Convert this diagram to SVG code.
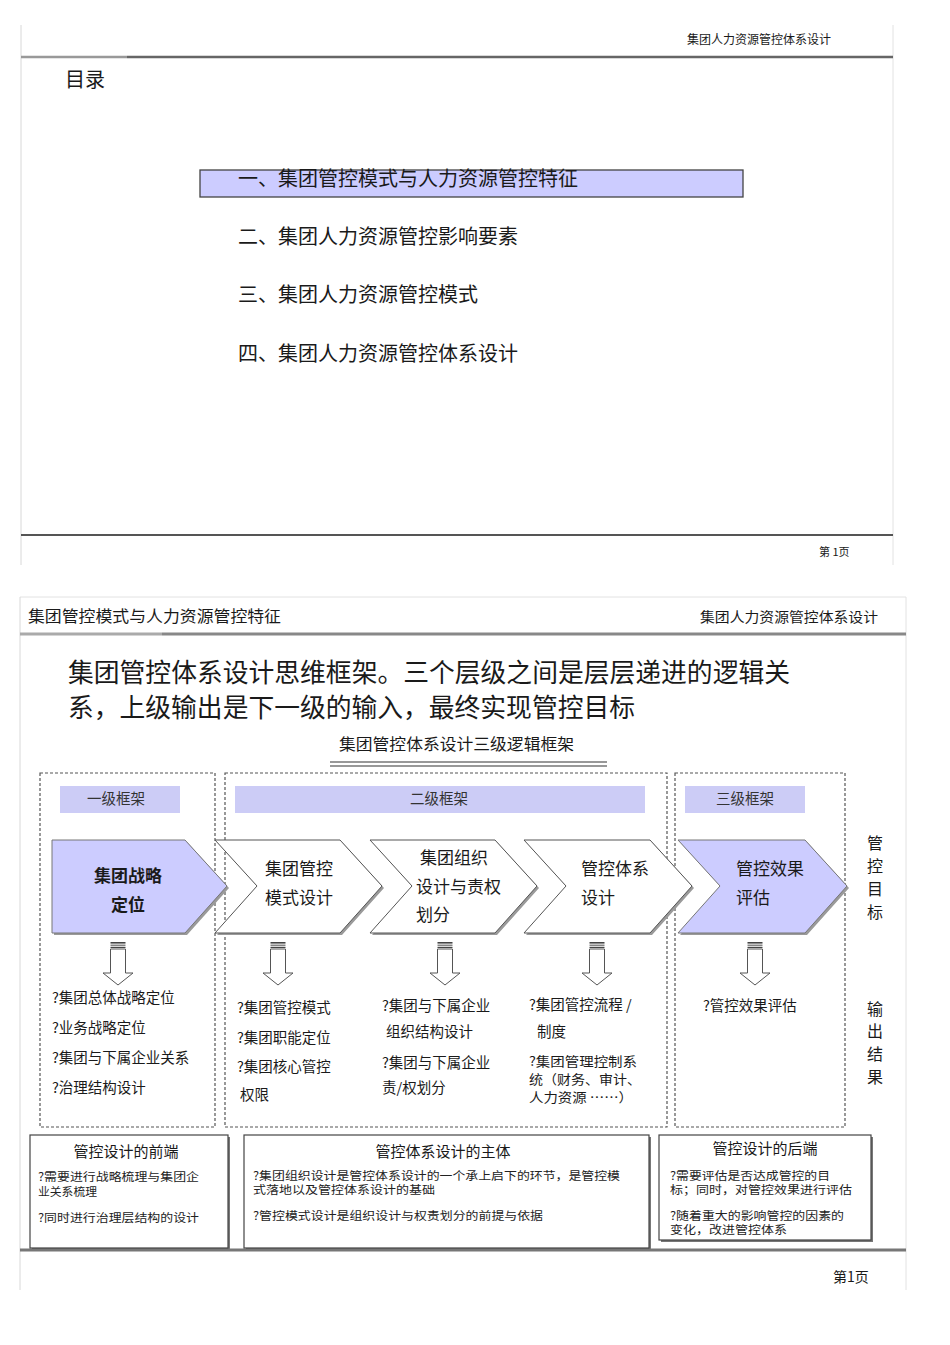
<svg xmlns="http://www.w3.org/2000/svg" width="950" height="1345" viewBox="0 0 950 1345">
<style>
text{font-family:"Noto Sans CJK SC","Noto Sans",sans-serif;fill:#1a1a1a}
.hdr{font-size:12px}
.toc{font-size:20px}
.frame{fill:none;stroke:#555;stroke-width:1.2;stroke-dasharray:3,2}
.lab{fill:#ccccf6}
.labt{font-size:14.5px;text-anchor:middle;fill:#333}
.chev{fill:#fff;stroke:#555;stroke-width:1}
.chevf{fill:#ccccff;stroke:#777;stroke-width:1}
.shad{fill:#9a9a9a}
.ct{font-size:17px}
.bt{font-size:14.5px}
.bt2{font-size:13px}
.side{font-size:16px;text-anchor:middle}
.arrow{fill:#fff;stroke:#555;stroke-width:1}
.box{fill:#fff;stroke:#444;stroke-width:1.2}
.boxs{fill:#777}
.bxt{font-size:15px;text-anchor:middle}
.bxs{font-size:11.8px;fill:#222}
</style>
<g id="page1">
  <line x1="21" y1="25" x2="21" y2="565" stroke="#d8d8d8" stroke-width="1"/>
  <line x1="893" y1="25" x2="893" y2="565" stroke="#e2e2e2" stroke-width="1"/>
  <text class="hdr" x="831" y="44" text-anchor="end">集团人力资源管控体系设计</text>
  <line x1="21" y1="57" x2="127" y2="57" stroke="#999" stroke-width="2.5"/>
  <line x1="127" y1="57" x2="893" y2="57" stroke="#666" stroke-width="2.5"/>
  <text x="65" y="87" font-size="20">目录</text>
  <rect x="200" y="170" width="543" height="27" fill="#ccccff" stroke="#444" stroke-width="1.3"/>
  <text class="toc" x="238" y="186">一、集团管控模式与人力资源管控特征</text>
  <text class="toc" x="238" y="244">二、集团人力资源管控影响要素</text>
  <text class="toc" x="238" y="302">三、集团人力资源管控模式</text>
  <text class="toc" x="238" y="361">四、集团人力资源管控体系设计</text>
  <line x1="21" y1="535" x2="893" y2="535" stroke="#555" stroke-width="2"/>
  <text x="819" y="556" font-size="11">第 1页</text>
</g>
<g id="page2">
  <line x1="20" y1="597" x2="906" y2="597" stroke="#e2e2e2" stroke-width="1"/>
  <line x1="20" y1="597" x2="20" y2="1290" stroke="#d8d8d8" stroke-width="1"/>
  <line x1="906" y1="597" x2="906" y2="1290" stroke="#e2e2e2" stroke-width="1"/>
  <text x="28" y="622" font-size="16" textLength="253" lengthAdjust="spacingAndGlyphs">集团管控模式与人力资源管控特征</text>
  <text x="878" y="622" font-size="14" text-anchor="end" textLength="178" lengthAdjust="spacingAndGlyphs">集团人力资源管控体系设计</text>
  <line x1="20" y1="634" x2="162" y2="634" stroke="#aaa" stroke-width="3"/>
  <line x1="162" y1="634" x2="906" y2="634" stroke="#888" stroke-width="3"/>
  <text x="68" y="682" font-size="26" textLength="722" lengthAdjust="spacingAndGlyphs">集团管控体系设计思维框架。三个层级之间是层层递进的逻辑关</text>
  <text x="68" y="717" font-size="26" textLength="567" lengthAdjust="spacingAndGlyphs">系，上级输出是下一级的输入，最终实现管控目标</text>
  <text x="339" y="750" font-size="16" textLength="235" lengthAdjust="spacingAndGlyphs">集团管控体系设计三级逻辑框架</text>
  <line x1="330" y1="762" x2="607" y2="762" stroke="#333" stroke-width="1.2"/>
  <line x1="330" y1="766" x2="607" y2="766" stroke="#333" stroke-width="1.2"/>
  <line x1="20" y1="1250" x2="906" y2="1250" stroke="#777" stroke-width="3"/>
  <text x="833" y="1282" font-size="14">第1页</text>
</g>
<g id="frames">
  <rect class="frame" x="40" y="773" width="175" height="354"/>
  <rect class="frame" x="225" y="773" width="442" height="354"/>
  <rect class="frame" x="675" y="773" width="170" height="354"/>
  <rect class="lab" x="60" y="786" width="120" height="27"/>
  <rect class="lab" x="235" y="786" width="410" height="27"/>
  <rect class="lab" x="685" y="786" width="120" height="27"/>
  <text class="labt" x="116" y="804">一级框架</text>
  <text class="labt" x="439" y="804">二级框架</text>
  <text class="labt" x="745" y="804">三级框架</text>
</g>
<g id="chev1">
  <polygon class="shad" points="54,842 187,842 229,888 187,935 54,935"/>
  <polygon class="chevf" points="52,840 185,840 227,886 185,933 52,933"/>
  <text class="ct" x="128" y="882" text-anchor="middle" font-weight="bold">集团战略</text>
  <text class="ct" x="128" y="911" text-anchor="middle" font-weight="bold">定位</text>
</g>
<g id="chev2">
  <polygon class="shad" points="217,842 342,842 384,888 342,935 217,935 259,888"/>
  <polygon class="chev" points="215,840 340,840 382,886 340,933 215,933 257,886"/>
  <text class="ct" x="265" y="875">集团管控</text>
  <text class="ct" x="265" y="904">模式设计</text>
</g>
<g id="chev3">
  <polygon class="shad" points="372,842 497,842 539,888 497,935 372,935 414,888"/>
  <polygon class="chev" points="370,840 495,840 537,886 495,933 370,933 412,886"/>
  <text class="ct" x="420" y="864">集团组织</text>
  <text class="ct" x="416" y="893">设计与责权</text>
  <text class="ct" x="416" y="921">划分</text>
</g>
<g id="chev4">
  <polygon class="shad" points="526,842 652,842 694,888 652,935 526,935 568,888"/>
  <polygon class="chev" points="524,840 650,840 692,886 650,933 524,933 566,886"/>
  <text class="ct" x="581" y="875">管控体系</text>
  <text class="ct" x="581" y="904">设计</text>
</g>
<g id="chev5">
  <polygon class="shad" points="680,842 807,842 849,888 807,935 680,935 722,888"/>
  <polygon class="chevf" points="678,840 805,840 847,886 805,933 678,933 720,886"/>
  <text class="ct" x="736" y="875">管控效果</text>
  <text class="ct" x="736" y="904">评估</text>
</g>
<defs>
  <g id="darrow">
    <rect x="-7.5" y="942" width="15" height="1.6" fill="#444"/>
    <rect x="-7.5" y="944.6" width="15" height="1.2" fill="#666"/>
    <rect x="-7.5" y="946.8" width="15" height="1.2" fill="#444"/>
    <polygon class="arrow" points="-7.5,949 7.5,949 7.5,973 15,973 0,985 -15,973 -7.5,973"/>
  </g>
</defs>
<g id="connectors">
  <use href="#darrow" x="118"/>
  <use href="#darrow" x="278"/>
  <use href="#darrow" x="445"/>
  <use href="#darrow" x="597"/>
  <use href="#darrow" x="755"/>
</g>
<g id="out1">
  <text class="bt" x="52" y="1003">?集团总体战略定位</text>
  <text class="bt" x="52" y="1033">?业务战略定位</text>
  <text class="bt" x="52" y="1063">?集团与下属企业关系</text>
  <text class="bt" x="52" y="1093">?治理结构设计</text>
</g>
<g id="out2">
  <text class="bt" x="237" y="1013">?集团管控模式</text>
  <text class="bt" x="237" y="1043">?集团职能定位</text>
  <text class="bt" x="237" y="1072">?集团核心管控</text>
  <text class="bt" x="240" y="1100">权限</text>
</g>
<g id="out3">
  <text class="bt" x="382" y="1011">?集团与下属企业</text>
  <text class="bt" x="386" y="1037">组织结构设计</text>
  <text class="bt" x="382" y="1068">?集团与下属企业</text>
  <text class="bt" x="382" y="1093">责/权划分</text>
</g>
<g id="out4">
  <text class="bt" x="529" y="1010">?集团管控流程 /</text>
  <text class="bt" x="537" y="1037">制度</text>
  <text class="bt2" x="529" y="1066" textLength="108" lengthAdjust="spacingAndGlyphs">?集团管理控制系</text>
  <text class="bt2" x="529" y="1084" textLength="112" lengthAdjust="spacingAndGlyphs">统（财务、审计、</text>
  <text class="bt2" x="529" y="1102" textLength="104" lengthAdjust="spacingAndGlyphs">人力资源 ……）</text>
</g>
<g id="out5">
  <text class="bt" x="703" y="1011">?管控效果评估</text>
</g>
<g id="side">
  <text class="side" x="875" y="849">管</text>
  <text class="side" x="875" y="872">控</text>
  <text class="side" x="875" y="895">目</text>
  <text class="side" x="875" y="918">标</text>
  <text class="side" x="875" y="1015">输</text>
  <text class="side" x="875" y="1037">出</text>
  <text class="side" x="875" y="1060">结</text>
  <text class="side" x="875" y="1083">果</text>
</g>
<g id="box1">
  <rect class="boxs" x="32" y="1137" width="198" height="113"/>
  <rect class="box" x="30" y="1135" width="198" height="113"/>
  <text class="bxt" x="126" y="1157">管控设计的前端</text>
  <text class="bxs" x="38" y="1181" textLength="161" lengthAdjust="spacingAndGlyphs">?需要进行战略梳理与集团企</text>
  <text class="bxs" x="38" y="1195.5">业关系梳理</text>
  <text class="bxs" x="38" y="1222" textLength="161" lengthAdjust="spacingAndGlyphs">?同时进行治理层结构的设计</text>
</g>
<g id="box2">
  <rect class="boxs" x="246" y="1137" width="405" height="113"/>
  <rect class="box" x="244" y="1135" width="405" height="113"/>
  <text class="bxt" x="443" y="1157">管控体系设计的主体</text>
  <text class="bxs" x="253" y="1179.5" textLength="367" lengthAdjust="spacingAndGlyphs">?集团组织设计是管控体系设计的一个承上启下的环节，是管控模</text>
  <text class="bxs" x="253" y="1194" textLength="182" lengthAdjust="spacingAndGlyphs">式落地以及管控体系设计的基础</text>
  <text class="bxs" x="253" y="1220" textLength="290" lengthAdjust="spacingAndGlyphs">?管控模式设计是组织设计与权责划分的前提与依据</text>
</g>
<g id="box3">
  <rect class="boxs" x="661" y="1137" width="212" height="105"/>
  <rect class="box" x="659" y="1135" width="212" height="105"/>
  <text class="bxt" x="765" y="1154">管控设计的后端</text>
  <text class="bxs" x="670" y="1179.5" textLength="160" lengthAdjust="spacingAndGlyphs">?需要评估是否达成管控的目</text>
  <text class="bxs" x="670" y="1194" textLength="182" lengthAdjust="spacingAndGlyphs">标；同时，对管控效果进行评估</text>
  <text class="bxs" x="670" y="1219.5" textLength="174" lengthAdjust="spacingAndGlyphs">?随着重大的影响管控的因素的</text>
  <text class="bxs" x="670" y="1234" textLength="117" lengthAdjust="spacingAndGlyphs">变化，改进管控体系</text>
</g>
</svg>
